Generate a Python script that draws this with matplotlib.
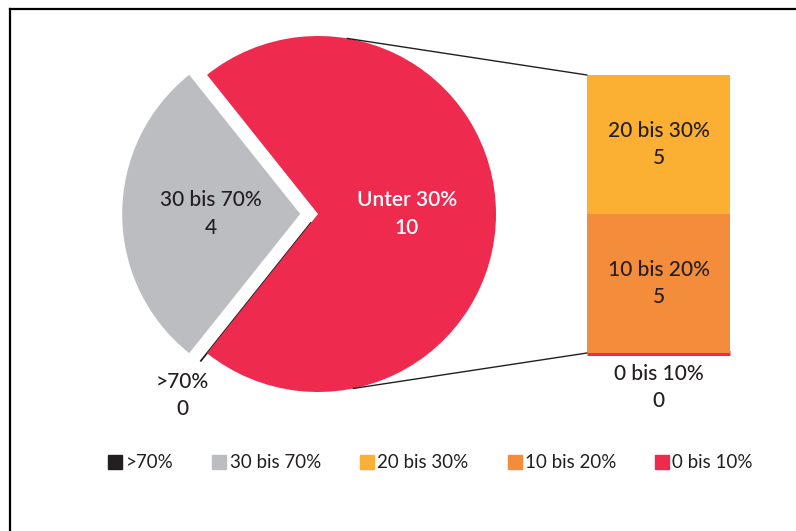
import numpy as np
import matplotlib
matplotlib.use("Agg")
import matplotlib.pyplot as plt
from matplotlib.patches import ConnectionPatch
from matplotlib.lines import Line2D

plt.rcParams['font.family'] = ['Lato', 'DejaVu Sans']

# pie data
pie_labels = ["30 bis 70%", ">70%", "Unter 30%"]
pie_values = [4, 0, 10]
pie_colors = ["#BCBDC0", "#231F20", "#EE2B4E"]

# bar (breakdown of "Unter 30%")
bar_labels = ["0 bis 10%", "10 bis 20%", "20 bis 30%"]
bar_values = [0, 5, 5]
bar_colors = ["#EE2B4E", "#F48D3B", "#FBB033"]

legend_labels = [">70%", "30 bis 70%", "20 bis 30%", "10 bis 20%", "0 bis 10%"]
legend_colors = ["#231F20", "#BCBDC0", "#FBB033", "#F48D3B", "#EE2B4E"]

W, H = 796, 531
fig = plt.figure(figsize=(W / 100, H / 100), dpi=100)
dark = "#231F20"
fs = 15
ls = 1.45

# frame (only top and left visible)
fig.add_artist(Line2D([10 / W, 10 / W], [0, 1 - 9 / H], color="black", lw=1.6))
fig.add_artist(Line2D([10 / W, 1], [1 - 9 / H, 1 - 9 / H], color="black", lw=1.6))

# pie axes
cx, cy, r = 318, 214, 178
half = 200
ax = fig.add_axes([(cx - half) / W, (H - cy - half) / H, 2 * half / W, 2 * half / H])
lim = half / r

start = 180 - 360 * pie_values[0] / sum(pie_values) / 2
wedges, _ = ax.pie(pie_values, colors=pie_colors, startangle=start, radius=1,
                   explode=[0.1, 0.06, 0], counterclock=True,
                   wedgeprops=dict(linewidth=0), frame=True)
ax.set_xlim(-lim, lim)
ax.set_ylim(-lim, lim)
ax.set_aspect("equal")
ax.axis("off")
wedges[1].set_edgecolor(dark)
wedges[1].set_linewidth(1.3)

ax.text(-0.6, 0.0, f"{pie_labels[0]}\n{pie_values[0]}", ha="center", va="center",
        fontsize=fs, color=dark, linespacing=ls, fontweight="medium")
ax.text(0.5, 0.0, f"{pie_labels[2]}\n{pie_values[2]}", ha="center", va="center",
        fontsize=fs, color="white", fontweight="semibold", linespacing=ls)
ax.text(-0.76, -1.02, f"{pie_labels[1]}\n{pie_values[1]}", ha="center", va="center",
        fontsize=fs, color=dark, linespacing=ls, fontweight="medium")

# bar axes
bx0, bx1, by0, by1 = 587, 730, 353, 75
bax = fig.add_axes([bx0 / W, (H - by0) / H, (bx1 - bx0) / W, (by0 - by1) / H])
bax.set_xlim(-0.5, 0.5)
bax.set_ylim(0, sum(bar_values))
bax.axis("off")
bottom = 0
for lab, val, col in zip(bar_labels, bar_values, bar_colors):
    if val == 0:
        bax.bar(0, val, width=1, bottom=bottom, color=col, edgecolor=col,
                linewidth=3.6, zorder=1, clip_on=False)
        bax.text(0, bottom - 1.25, f"{lab}\n{val}", ha="center", va="center",
                 fontsize=fs, color=dark, linespacing=ls, fontweight="medium")
    else:
        bax.bar(0, val, width=1, bottom=bottom, color=col, zorder=2)
        bax.text(0, bottom + val / 2, f"{lab}\n{val}", ha="center", va="center",
                 fontsize=fs, color=dark, linespacing=ls, zorder=3, fontweight="medium")
    bottom += val

# connecting lines
for ang, yb in [(80.6, sum(bar_values)), (-78.6, 0)]:
    p = (np.cos(np.radians(ang)), np.sin(np.radians(ang)))
    con = ConnectionPatch(xyA=(-0.5, yb), coordsA=bax.transData,
                          xyB=p, coordsB=ax.transData, color=dark, lw=1.0)
    fig.add_artist(con)

# legend
handles = [Line2D([], [], marker="s", linestyle="", markersize=9.5, color=c)
           for c in legend_colors]
fig.legend(handles, legend_labels, loc="center", bbox_to_anchor=(430 / W, 1 - 463 / H),
           ncol=5, frameon=False, fontsize=13.5, handletextpad=0.1,
           columnspacing=2.0, labelcolor=dark, handlelength=0.9)

fig.savefig("out.png", dpi=100)
